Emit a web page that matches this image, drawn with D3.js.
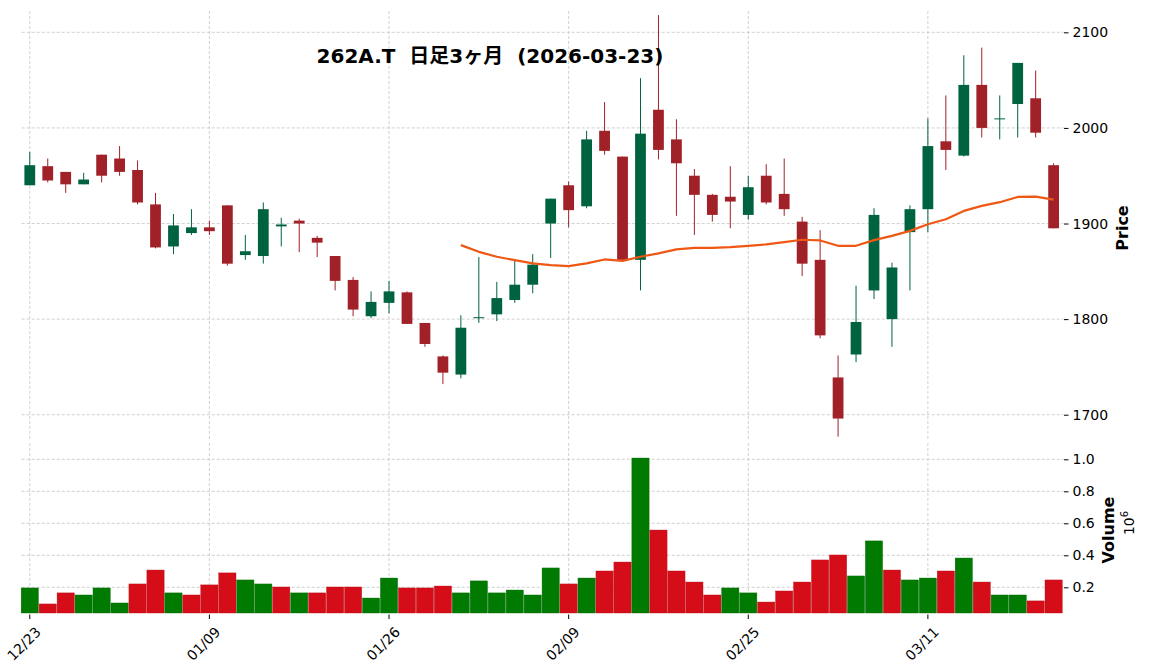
<!DOCTYPE html>
<html lang="ja">
<head>
<meta charset="utf-8">
<title>262A.T 日足3ヶ月</title>
<script src="https://d3js.org/d3.v7.min.js"></script>
<style>
  body { margin: 0; background: #fff; }
  svg text { font-family: "DejaVu Sans", "Noto Sans CJK JP", sans-serif; fill: #000; }
  .grid line { stroke: #c4c4c4; stroke-width: 0.8; stroke-dasharray: 3,2; }
  .axis path { display: none; }
  .axis line { stroke: #000; stroke-width: 1; }
  .axis text { font-size: 14px; }
</style>
</head>
<body>
<div id="chart"></div>
<script>
// trading days, 2025-12-23 .. 2026-03-23
var dates = ["12/23","12/24","12/25","12/26","12/29","12/30","01/05","01/06","01/07","01/08",
  "01/09","01/13","01/14","01/15","01/16","01/19","01/20","01/21","01/22","01/23",
  "01/26","01/27","01/28","01/29","01/30","02/02","02/03","02/04","02/05","02/06",
  "02/09","02/10","02/12","02/13","02/16","02/17","02/18","02/19","02/20","02/24",
  "02/25","02/26","02/27","03/02","03/03","03/04","03/05","03/06","03/09","03/10",
  "03/11","03/12","03/13","03/16","03/17","03/18","03/19","03/23"];

var openP = [1940,1960,1954,1941,1972,1968,1956,1920,1876,1890,
  1896,1919,1867,1866,1897,1903,1885,1866,1841,1803,
  1817,1828,1796,1761,1742,1801,1805,1820,1836,1900,
  1940,1918,1997,1970,1862,2019,1988,1950,1930,1928,
  1909,1950,1931,1902,1862,1739,1763,1830,1800,1891,
  1915,1986,1971,2045,2009,2025,2031,1961];
var highP = [1975,1968,1954,1953,1972,1981,1966,1932,1910,1915,
  1903,1919,1888,1922,1906,1905,1887,1866,1844,1829,
  1840,1829,1796,1762,1804,1865,1839,1863,1868,1926,
  1944,1997,2027,1970,2052,2118,2009,1957,1931,1960,
  1950,1962,1968,1907,1893,1762,1835,1916,1859,1919,
  2010,2034,2076,2084,2034,2068,2060,1963];
var lowP = [1940,1943,1932,1941,1943,1950,1920,1874,1868,1888,
  1888,1856,1862,1858,1876,1870,1865,1830,1803,1801,
  1806,1795,1771,1732,1738,1796,1798,1817,1827,1864,
  1896,1916,1972,1860,1830,1967,1908,1888,1902,1895,
  1904,1920,1908,1845,1780,1677,1755,1821,1771,1830,
  1891,1956,1970,1990,1988,1990,1990,1895];
var closeP = [1961,1945,1941,1946,1950,1954,1922,1875,1898,1896,
  1892,1858,1871,1915,1899,1900,1880,1840,1810,1818,
  1829,1795,1774,1744,1791,1802,1822,1836,1857,1926,
  1914,1988,1976,1862,1994,1977,1963,1930,1909,1923,
  1938,1922,1915,1858,1783,1696,1797,1909,1854,1915,
  1981,1977,2045,2000,2010,2068,1995,1895];
var volume = [196000,96000,165000,152000,196000,102000,221000,308000,165000,152000,
  215000,290000,246000,221000,202000,165000,165000,202000,202000,133000,
  258000,196000,196000,208000,165000,240000,165000,183000,152000,321000,
  221000,258000,302000,358000,1008000,558000,302000,233000,152000,196000,
  165000,108000,177000,233000,371000,402000,271000,490000,308000,246000,
  258000,302000,383000,233000,152000,152000,115000,246000];
// 25-day moving average, first value on day index 24
var maStart = 24;
var ma25 = [1877.4,1870.4,1865.2,1861.7,1858.3,1856.5,1855.5,1858.3,1862.4,1861.0,
  1865.2,1868.7,1872.9,1874.6,1874.6,1875.3,1876.7,1878.1,1880.5,1883.0,
  1882.3,1876.7,1876.7,1882.6,1887.1,1892.3,1899.3,1904.5,1913.2,1918.4,
  1922.3,1927.8,1928.2,1925.0];

var priceTicks = [1700,1800,1900,2000,2100];
var volTicks = [0.2,0.4,0.6,0.8,1.0];
var xTickIdx = [0,10,20,30,40,50];
var title = "262A.T  日足3ヶ月  (2026-03-23)";

var upColor = "#006340", downColor = "#A02128";
var volUp = "#007a00", volDown = "#d50d18";
var maColor = "#ef5714";

var W = 1151, H = 672;
var left = 21.7, right = 1063.5;
var priceTop = 11, priceBottom = 439, volTop = 443, volBottom = 613;

var svg = d3.select("#chart").append("svg").attr("width", W).attr("height", H);

var n = dates.length;
var x = d3.scaleLinear().domain([-0.45, n - 0.45]).range([left, right]);
var step = x(1) - x(0);
var y = d3.scaleLinear().domain([1674.6, 2122.3]).range([priceBottom, priceTop]);
var yv = d3.scaleLinear().domain([0.0394, 1.102]).range([volBottom, volTop]);

function drawGrid() {
  var g = svg.append("g").attr("class", "grid");
  g.selectAll(".hp").data(priceTicks).enter().append("line")
    .attr("x1", left).attr("x2", right)
    .attr("y1", function(d){ return y(d); }).attr("y2", function(d){ return y(d); });
  g.selectAll(".hv").data(volTicks).enter().append("line")
    .attr("x1", left).attr("x2", right)
    .attr("y1", function(d){ return yv(d); }).attr("y2", function(d){ return yv(d); });
  g.selectAll(".vp").data(xTickIdx).enter().append("line")
    .attr("x1", function(d){ return x(d); }).attr("x2", function(d){ return x(d); })
    .attr("y1", priceTop).attr("y2", priceBottom);
  g.selectAll(".vv").data(xTickIdx).enter().append("line")
    .attr("x1", function(d){ return x(d); }).attr("x2", function(d){ return x(d); })
    .attr("y1", volTop).attr("y2", volBottom);
}

function drawCandles() {
  var bw = step * 0.6;
  var c = svg.append("g").selectAll("g").data(d3.range(n)).enter().append("g");
  c.append("line")
    .attr("x1", function(i){ return x(i); }).attr("x2", function(i){ return x(i); })
    .attr("y1", function(i){ return y(highP[i]); }).attr("y2", function(i){ return y(lowP[i]); })
    .attr("stroke", function(i){ return closeP[i] >= openP[i] ? upColor : downColor; })
    .attr("stroke-width", 1);
  c.append("rect")
    .attr("x", function(i){ return x(i) - bw / 2; })
    .attr("width", bw)
    .attr("y", function(i){ return y(Math.max(openP[i], closeP[i])); })
    .attr("height", function(i){ return Math.max(1, Math.abs(y(openP[i]) - y(closeP[i]))); })
    .attr("fill", function(i){ return closeP[i] >= openP[i] ? upColor : downColor; });
}

function drawMA() {
  var line = d3.line()
    .x(function(d, k){ return x(maStart + k); })
    .y(function(d){ return y(d); });
  svg.append("path").datum(ma25)
    .attr("d", line)
    .attr("fill", "none")
    .attr("stroke", maColor)
    .attr("stroke-width", 2.2)
    .attr("stroke-linejoin", "round");
}

function drawVolume() {
  var vw = step * 0.96;
  svg.append("g").selectAll("rect").data(d3.range(n)).enter().append("rect")
    .attr("x", function(i){ return x(i) - vw / 2; })
    .attr("width", vw)
    .attr("y", function(i){ return yv(volume[i] / 1e6); })
    .attr("height", function(i){ return volBottom - yv(volume[i] / 1e6); })
    .attr("fill", function(i){ return (i == 0 || closeP[i] >= closeP[i-1]) ? volUp : volDown; })
    .attr("stroke", function(i){ return (i == 0 || closeP[i] >= closeP[i-1]) ? "#056b05" : "#b8121b"; })
    .attr("stroke-width", 0.4);
}

function drawAxes() {
  svg.append("g").attr("class", "axis")
    .attr("transform", "translate(" + (right + 0.5) + ",0)")
    .call(d3.axisRight(y).tickValues(priceTicks).tickSize(4.5).tickPadding(4).tickFormat(d3.format("d")));
  svg.append("g").attr("class", "axis")
    .attr("transform", "translate(" + (right + 0.5) + ",0)")
    .call(d3.axisRight(yv).tickValues(volTicks).tickSize(4.5).tickPadding(4).tickFormat(d3.format(".1f")));

  var xa = svg.append("g").attr("class", "axis");
  xa.selectAll("line").data(xTickIdx).enter().append("line")
    .attr("x1", function(d){ return x(d); }).attr("x2", function(d){ return x(d); })
    .attr("y1", volBottom + 1.5).attr("y2", volBottom + 6);
  xa.selectAll("text").data(xTickIdx).enter().append("text")
    .attr("transform", function(d){ return "translate(" + (x(d) + 12) + "," + (volBottom + 20) + ") rotate(-45)"; })
    .attr("text-anchor", "end")
    .text(function(d){ return dates[d]; });

  svg.append("text")
    .attr("transform", "translate(1128," + ((priceTop + priceBottom) / 2 + 3) + ") rotate(-90)")
    .attr("text-anchor", "middle")
    .style("font-size", "16px").style("font-weight", "bold")
    .text("Price");
  svg.append("text")
    .attr("transform", "translate(1114,530) rotate(-90)")
    .attr("text-anchor", "middle")
    .style("font-size", "16px").style("font-weight", "bold")
    .text("Volume");
  var off = svg.append("text")
    .attr("transform", "translate(1134,523) rotate(-90)")
    .attr("text-anchor", "middle")
    .style("font-size", "14px");
  off.append("tspan").text("10");
  off.append("tspan").attr("dy", -6).style("font-size", "10px").text("6");

  svg.append("text")
    .attr("x", 490).attr("y", 63)
    .attr("text-anchor", "middle")
    .style("font-size", "20px").style("font-weight", "bold")
    .style("white-space", "pre")
    .text(title);
}

drawGrid();
drawVolume();
drawCandles();
drawMA();
drawAxes();
</script>
</body>
</html>
